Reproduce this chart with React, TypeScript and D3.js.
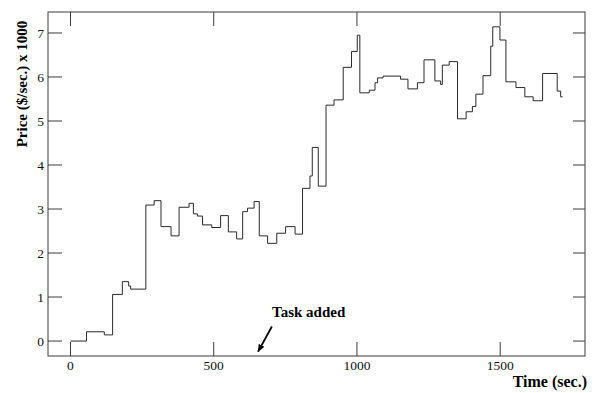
import React from "react";
import * as d3 from "d3";

// Step-wise price over time: each price holds until the next change time.
const changeTimes = [
  0, 56, 118, 147, 181, 203, 210, 263, 292, 316, 351, 379, 414, 429, 443, 461,
  493, 524, 551, 580, 601, 618, 641, 659, 688, 720, 751, 784, 810, 836, 844,
  865, 892, 920, 952, 981, 1001, 1010, 1043, 1063, 1072, 1091, 1152, 1178,
  1211, 1234, 1272, 1292, 1298, 1322, 1351, 1381, 1403, 1415, 1440, 1467,
  1474, 1499, 1520, 1555, 1586, 1615, 1648, 1699, 1711, 1718,
];
const prices = [
  0, 0.21, 0.14, 1.06, 1.35, 1.25, 1.18, 3.09, 3.19, 2.6, 2.39, 3.04, 3.13,
  2.89, 2.84, 2.64, 2.58, 2.85, 2.48, 2.32, 2.94, 3.02, 3.17, 2.39, 2.22, 2.45,
  2.6, 2.43, 3.47, 3.75, 4.4, 3.52, 5.36, 5.48, 6.22, 6.58, 6.95, 5.64, 5.7,
  5.87, 5.98, 6.02, 5.95, 5.73, 5.87, 6.39, 5.91, 5.83, 6.27, 6.35, 5.05, 5.21,
  5.33, 5.61, 6.03, 6.7, 7.14, 6.84, 5.89, 5.76, 5.55, 5.46, 6.08, 5.68, 5.55,
  5.55,
];

const timeTicks = [0, 500, 1000, 1500];
const priceTicks = [0, 1, 2, 3, 4, 5, 6, 7];

const W = 594;
const H = 393;
const frame = { left: 48, right: 585, top: 12, bottom: 356 };
const tickLen = 14;
const font = "'Liberation Serif', 'DejaVu Serif', serif";

export default function App() {
  const x = d3
    .scaleLinear()
    .domain([-78.5, 1796])
    .range([frame.left, frame.right]);
  const y = d3
    .scaleLinear()
    .domain([-0.34, 7.477])
    .range([frame.bottom, frame.top]);

  const points: [number, number][] = changeTimes.map((t, i) => [t, prices[i]]);
  const path = d3
    .line<[number, number]>()
    .x((d) => x(d[0]))
    .y((d) => y(d[1]))
    .curve(d3.curveStepAfter)(points);

  const axisColor = "#3a3a3a";
  const arrowTip = { t: 655, v: -0.24 };
  const arrowTail = { t: 703, v: 0.33 };

  return (
    <svg
      width={W}
      height={H}
      style={{ position: "absolute", left: 0, top: 0, background: "#fff" }}
    >
      <defs>
        <marker
          id="head"
          viewBox="0 0 10 10"
          refX="9"
          refY="5"
          markerWidth="8"
          markerHeight="8"
          orient="auto"
          markerUnits="userSpaceOnUse"
        >
          <path d="M0,1 L10,5 L0,9 Z" fill="#000" />
        </marker>
      </defs>

      {/* frame */}
      <rect
        x={frame.left}
        y={frame.top}
        width={frame.right - frame.left}
        height={frame.bottom - frame.top}
        fill="none"
        stroke={axisColor}
        strokeWidth={1}
      />

      {/* time ticks, bottom and top */}
      {timeTicks.map((t) => (
        <g key={`t${t}`}>
          <line
            x1={x(t)}
            x2={x(t)}
            y1={frame.bottom}
            y2={frame.bottom - tickLen}
            stroke={axisColor}
          />
          <line
            x1={x(t)}
            x2={x(t)}
            y1={frame.top}
            y2={frame.top + tickLen}
            stroke={axisColor}
          />
          <text
            x={x(t)}
            y={370}
            textAnchor="middle"
            fontFamily={font}
            fontSize={13.5}
            fill="#111"
          >
            {t}
          </text>
        </g>
      ))}

      {/* price ticks, left and right */}
      {priceTicks.map((p) => (
        <g key={`p${p}`}>
          <line
            x1={frame.left}
            x2={frame.left + tickLen}
            y1={y(p)}
            y2={y(p)}
            stroke={axisColor}
          />
          <line
            x1={frame.right}
            x2={frame.right - 12}
            y1={y(p)}
            y2={y(p)}
            stroke={axisColor}
          />
          <text
            x={44}
            y={y(p)}
            dy="0.35em"
            textAnchor="end"
            fontFamily={font}
            fontSize={13.5}
            fill="#111"
          >
            {p}
          </text>
        </g>
      ))}

      {/* price series */}
      <path d={path ?? ""} fill="none" stroke="#2a2a2a" strokeWidth={1} />

      {/* annotation */}
      <text
        x={272}
        y={317}
        fontFamily={font}
        fontSize={15}
        fontWeight="bold"
        fill="#000"
      >
        Task added
      </text>
      <line
        x1={x(arrowTail.t)}
        y1={y(arrowTail.v)}
        x2={x(arrowTip.t)}
        y2={y(arrowTip.v)}
        stroke="#000"
        strokeWidth={1.8}
        markerEnd="url(#head)"
      />

      {/* axis titles */}
      <text
        x={587}
        y={387}
        textAnchor="end"
        fontFamily={font}
        fontSize={16}
        fontWeight="bold"
        fill="#000"
      >
        Time (sec.)
      </text>
      <text
        transform={`translate(27,84) rotate(-90)`}
        textAnchor="middle"
        fontFamily={font}
        fontSize={15}
        fontWeight="bold"
        fill="#000"
      >
        Price ($/sec.) x 1000
      </text>
    </svg>
  );
}
